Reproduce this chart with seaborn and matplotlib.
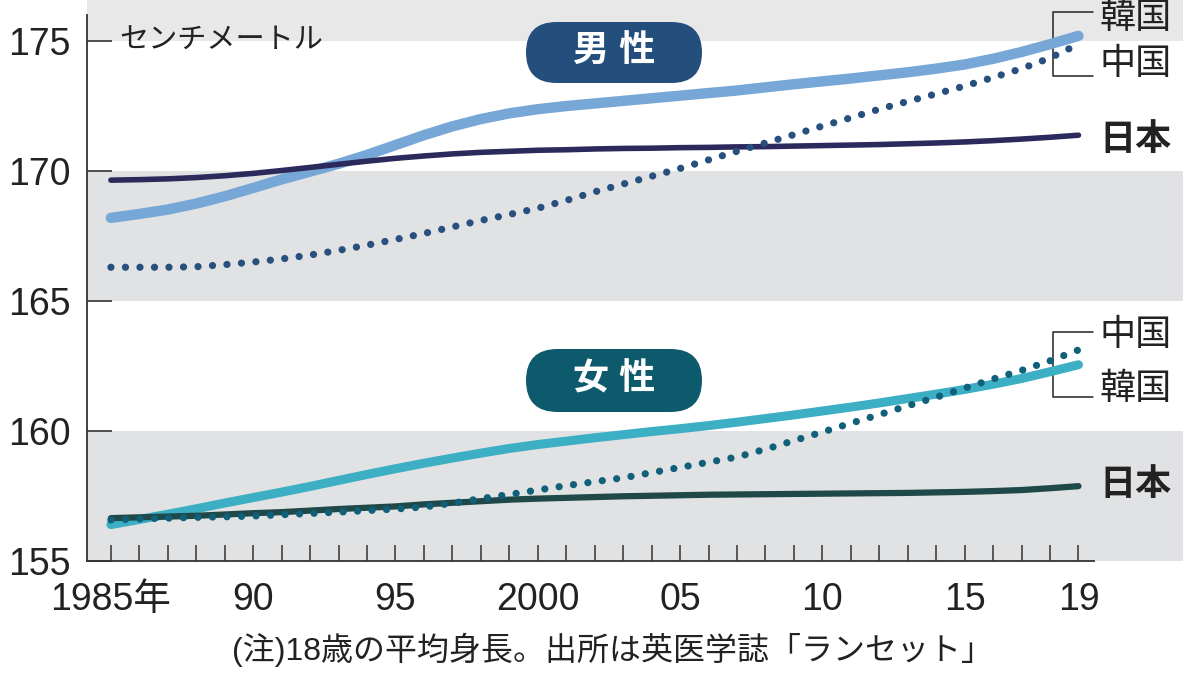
import matplotlib
matplotlib.use("Agg")
import matplotlib.pyplot as plt
from matplotlib import font_manager
from matplotlib.patches import FancyBboxPatch
from matplotlib.transforms import IdentityTransform
import pandas as pd
import seaborn as sns

# ─── data ─────────────────────────────────────────────────────────────────────
YEARS = [1985, 1986, 1987, 1988, 1989, 1990, 1991, 1992, 1993, 1994,
         1995, 1996, 1997, 1998, 1999, 2000, 2001, 2002, 2003, 2004,
         2005, 2006, 2007, 2008, 2009, 2010, 2011, 2012, 2013, 2014,
         2015, 2016, 2017, 2018, 2019]

MALE_KOREA = [168.2, 168.35, 168.52, 168.75, 169.03, 169.35, 169.68, 169.98, 170.28, 170.62,
              171.0, 171.38, 171.72, 172.0, 172.22, 172.38, 172.5, 172.6, 172.7, 172.8,
              172.9, 173.0, 173.1, 173.22, 173.34, 173.45, 173.56, 173.68, 173.8, 173.94,
              174.1, 174.32, 174.58, 174.88, 175.2]
MALE_JAPAN = [169.65, 169.67, 169.7, 169.75, 169.82, 169.91, 170.02, 170.14, 170.26, 170.38,
              170.49, 170.58, 170.66, 170.72, 170.76, 170.8, 170.82, 170.85, 170.87, 170.88,
              170.9, 170.91, 170.93, 170.94, 170.96, 170.98, 171.0, 171.02, 171.05, 171.08,
              171.12, 171.17, 171.23, 171.3, 171.38]
MALE_CHINA = [166.3, 166.3, 166.3, 166.32, 166.4, 166.5, 166.62, 166.77, 166.95, 167.15,
              167.37, 167.6, 167.85, 168.1, 168.33, 168.57, 168.87, 169.2, 169.5, 169.8,
              170.1, 170.43, 170.76, 171.08, 171.4, 171.73, 172.05, 172.38, 172.68, 172.97,
              173.27, 173.6, 173.94, 174.35, 174.88]

FEMALE_KOREA = [156.4, 156.6, 156.8, 157.01, 157.23, 157.44, 157.65, 157.87, 158.1, 158.33,
                158.55, 158.76, 158.96, 159.15, 159.33, 159.48, 159.61, 159.74, 159.86, 159.98,
                160.09, 160.21, 160.34, 160.48, 160.62, 160.77, 160.92, 161.08, 161.25, 161.42,
                161.6, 161.8, 162.02, 162.28, 162.55]
FEMALE_JAPAN = [156.65, 156.68, 156.71, 156.74, 156.79, 156.84, 156.88, 156.94, 157.0, 157.05,
                157.1, 157.18, 157.24, 157.3, 157.36, 157.4, 157.43, 157.46, 157.49, 157.51,
                157.53, 157.55, 157.56, 157.57, 157.58, 157.59, 157.6, 157.61, 157.62, 157.64,
                157.66, 157.69, 157.73, 157.8, 157.88]
FEMALE_CHINA = [156.58, 156.62, 156.65, 156.68, 156.7, 156.73, 156.78, 156.83, 156.88, 156.94,
                157.0, 157.08, 157.22, 157.4, 157.56, 157.73, 157.9, 158.05, 158.2, 158.4,
                158.6, 158.8, 159.0, 159.3, 159.63, 159.96, 160.3, 160.63, 160.97, 161.3,
                161.65, 162.0, 162.33, 162.7, 163.12]

Y_TICKS = [155, 160, 165, 170, 175]
X_LABELS = {1985: "1985年", 1990: "90", 1995: "95", 2000: "2000",
            2005: "05", 2010: "10", 2015: "15", 2019: "19"}

UNIT = "センチメートル"
NOTE = "(注)18歳の平均身長。出所は英医学誌「ランセット」"

# ─── style ────────────────────────────────────────────────────────────────────
C_M_KOREA, C_M_JAPAN, C_M_CHINA = "#77a7d6", "#2c2a5c", "#27507f"
C_F_KOREA, C_F_JAPAN, C_F_CHINA = "#3dafc4", "#1f4849", "#106079"
BAND = "#e1e2e4"
INK = "#222222"

sns.set_style("white")
names = {f.name for f in font_manager.fontManager.ttflist}
num_font = "Liberation Sans Narrow" if "Liberation Sans Narrow" in names else "Liberation Sans"
plt.rcParams["font.family"] = [num_font, "Noto Sans CJK JP", "DejaVu Sans"]

fig = plt.figure(figsize=(12, 6.97), dpi=100)
ax = fig.add_axes([0.0725, 0.1951, 0.9135, 0.8049])
ax.set_xlim(1984.16, 2022.68)
ax.set_ylim(155, 176.58)

# gray bands
ax.axhspan(175, 177, color="#e8e8e8", lw=0, zorder=0)
ax.axhspan(165, 170, color=BAND, lw=0, zorder=0)
ax.axhspan(155, 160, color=BAND, lw=0, zorder=0)

df = pd.DataFrame({"year": YEARS,
                   "m_korea": MALE_KOREA, "m_japan": MALE_JAPAN, "m_china": MALE_CHINA,
                   "f_korea": FEMALE_KOREA, "f_japan": FEMALE_JAPAN, "f_china": FEMALE_CHINA})

dots = dict(linestyle=(0, (0.01, 2.0)), dash_capstyle="round", linewidth=5.2)
sns.lineplot(data=df, x="year", y="m_korea", ax=ax, color=C_M_KOREA, linewidth=7.5,
             solid_capstyle="round", solid_joinstyle="round", zorder=3)
sns.lineplot(data=df, x="year", y="m_japan", ax=ax, color=C_M_JAPAN, linewidth=4,
             solid_capstyle="round", zorder=4)
sns.lineplot(data=df, x="year", y="m_china", ax=ax, color=C_M_CHINA, zorder=5, **dots)
sns.lineplot(data=df, x="year", y="f_korea", ax=ax, color=C_F_KOREA, linewidth=6.5,
             solid_capstyle="round", solid_joinstyle="round", zorder=3)
sns.lineplot(data=df, x="year", y="f_japan", ax=ax, color=C_F_JAPAN, linewidth=4.5,
             solid_capstyle="round", zorder=4)
sns.lineplot(data=df, x="year", y="f_china", ax=ax, color=C_F_CHINA, zorder=5, **dots)

# axes
for s in ["top", "right"]:
    ax.spines[s].set_visible(False)
ax.spines["left"].set_bounds(155, 176.0)
ax.spines["bottom"].set_bounds(1984.16, 2019.55)
for s in ["left", "bottom"]:
    ax.spines[s].set_color("#333333")
    ax.spines[s].set_linewidth(1.3)
    ax.spines[s].set_zorder(6)

ax.set_yticks(Y_TICKS)
ax.set_yticklabels([str(v) for v in Y_TICKS])
ax.set_xticks(YEARS)
ax.set_xticklabels([X_LABELS.get(y, "") for y in YEARS])
ax.tick_params(axis="y", left=True, direction="in", length=18, width=1.2, color="#333333",
               labelsize=27, pad=12, labelcolor=INK)
ax.tick_params(axis="x", bottom=True, direction="in", length=11.5, width=1.1, color="#333333",
               labelsize=27, pad=15, labelcolor=INK)
ax.set_xlabel("")
ax.set_ylabel("")
ax.grid(False)

ax.text(1985.3, 175, UNIT, fontsize=21, va="center", ha="left", color=INK)

# series labels with brackets
lab = dict(fontsize=26, ha="left", va="center", color=INK)
ax.text(2019.75, 175.88, "韓国", **lab)
ax.text(2019.75, 174.08, "中国", **lab)
ax.text(2019.75, 171.19, "日本", fontweight="bold", **lab)
ax.text(2019.75, 163.69, "中国", **lab)
ax.text(2019.75, 161.58, "韓国", **lab)
ax.text(2019.75, 157.92, "日本", fontweight="bold", **lab)
for top, bot in [(176.12, 173.65), (163.81, 161.31)]:
    ax.plot([2019.52, 2018.11, 2018.11, 2019.52], [top, top, bot, bot],
            color=INK, lw=1.1, zorder=2, clip_on=False)

# badges (pixel coordinates)
H = 697
for (x0, y0, w, h, color, label) in [(526, 22, 176, 61, "#244f7d", "男 性"),
                                     (526, 349, 176, 63, "#0e5a6d", "女 性")]:
    fig.patches.append(FancyBboxPatch((x0, H - y0 - h), w, h,
                                      boxstyle=f"round,pad=0,rounding_size={h / 2}",
                                      transform=IdentityTransform(), facecolor=color,
                                      edgecolor="none", zorder=7))
    fig.text((x0 + w / 2) / 1200, 1 - (y0 + h / 2) / H, label, fontsize=26,
             fontweight="bold", color="white", ha="center", va="center", zorder=8)

fig.text(613 / 1200, 1 - 650 / H, NOTE, fontsize=23, ha="center", va="center", color=INK)

fig.savefig("out.png", dpi=100)
